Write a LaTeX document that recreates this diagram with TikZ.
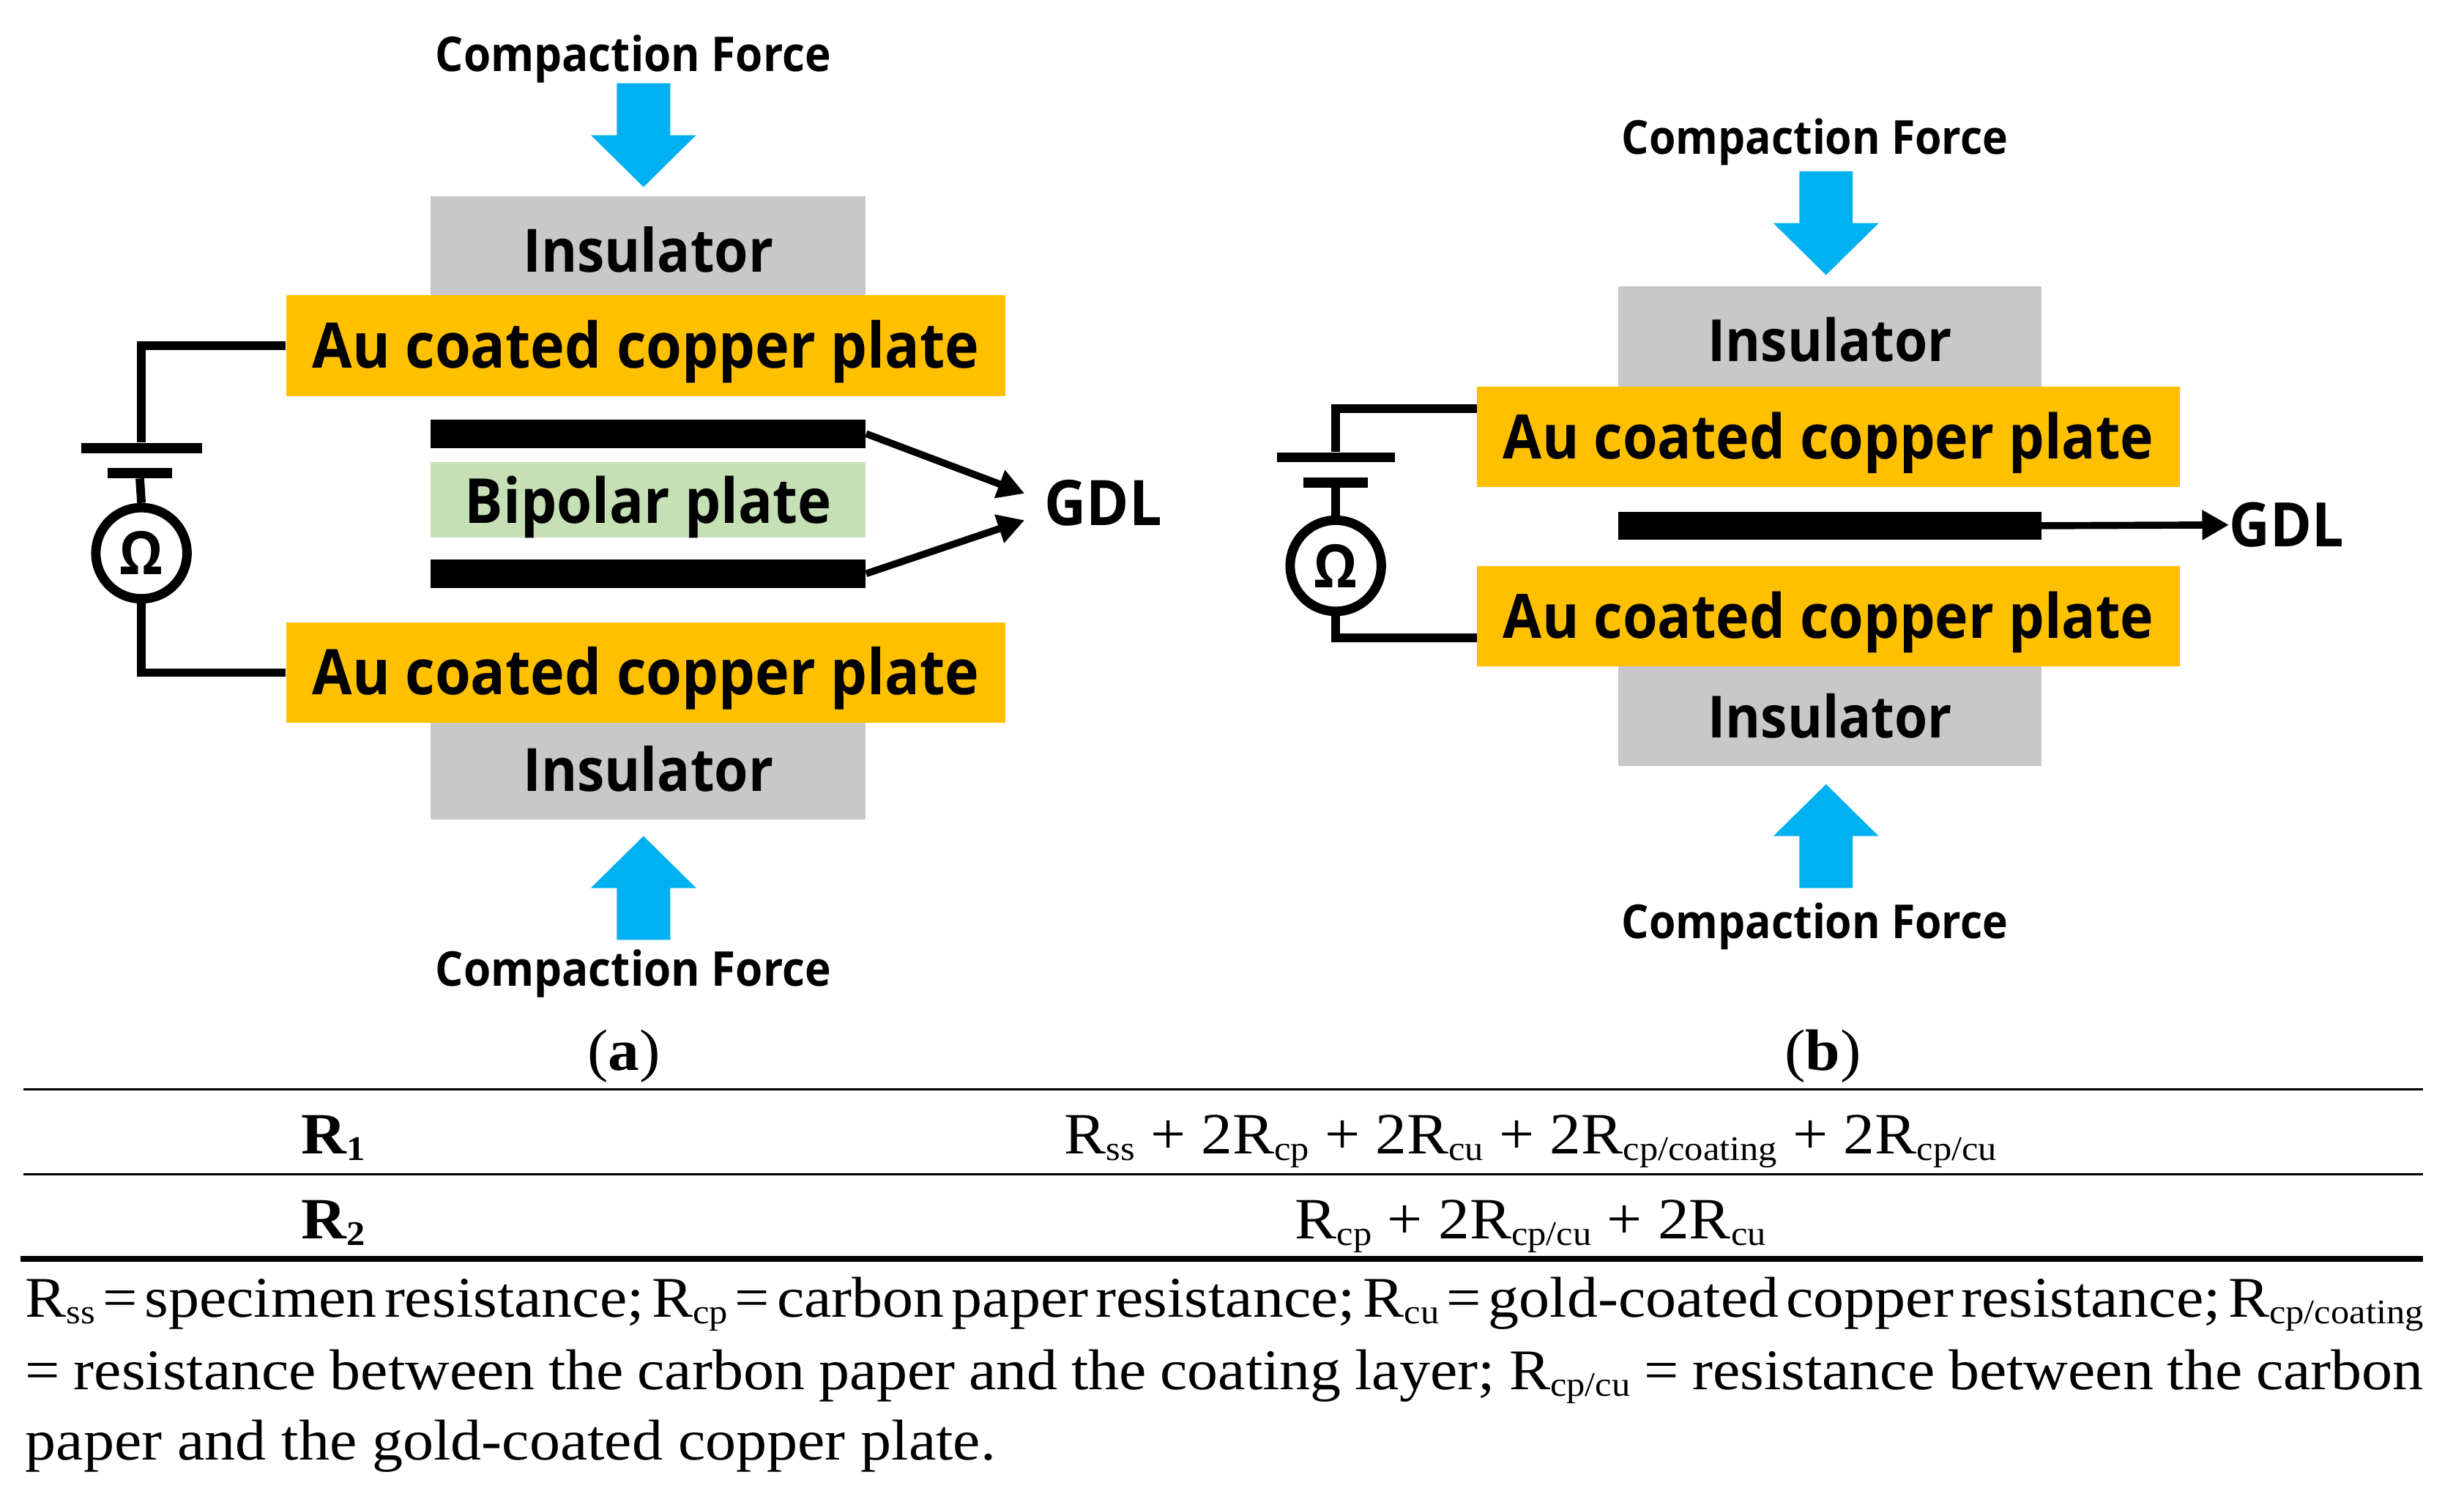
\documentclass[tikz,border=0pt]{standalone}
\usepackage{fontspec}
\usetikzlibrary{arrows.meta}
\setmainfont{Liberation Serif}[FakeStretch=1.07]
\newfontfamily\labfont{Open Sans}[FakeStretch=0.92]
\definecolor{gold}{HTML}{FFC000}
\definecolor{insgray}{HTML}{C8C8C8}
\definecolor{bipgreen}{HTML}{C5E0B4}
\definecolor{forceblue}{HTML}{00B0F0}
\newcommand{\sbs}[1]{\raisebox{-0.25ex}{\fontsize{22}{22}\selectfont #1}}
\newcommand{\lab}[1]{\labfont\bfseries\fontsize{#1}{#1}\selectfont}
\tikzset{
  block/.style={rectangle,inner sep=0pt,text=black,text height=30pt,text depth=2pt},
  ins/.style={block,fill=insgray,minimum height=64pt},
  au/.style={block,fill=gold,minimum height=64pt},
  bip/.style={block,fill=bipgreen,minimum height=48pt},
  gdl/.style={rectangle,inner sep=0pt,fill=black,minimum height=18pt},
  force/.style={inner sep=0pt},
  gdltxt/.style={inner sep=0pt},
  pushdown/.pic={\fill[forceblue] (-17,-33) -- (17,-33) -- (17,0) -- (33.5,0) -- (0,33) -- (-33.5,0) -- (-17,0) -- cycle;},
  pushup/.pic={\fill[forceblue] (-17,33) -- (17,33) -- (17,0) -- (33.5,0) -- (0,-33) -- (-33.5,0) -- (-17,0) -- cycle;},
  batlong/.style={rectangle,inner sep=0pt,fill=black,minimum height=6.5pt,minimum width=77pt},
  batshort/.style={rectangle,inner sep=0pt,fill=black,minimum height=6.5pt,minimum width=41pt},
  ohm/.style={circle,draw=black,line width=6pt,fill=white,minimum size=58pt,inner sep=0pt,font=\lab{38}},
  wire/.style={draw=black,line width=5.5pt},
  lead/.style={draw=black,line width=4.5pt,-{Triangle[length=17pt,width=18pt]}},
  rule/.style={draw=black,line width=1.5pt},
  txt/.style={inner sep=0pt,font=\fontsize{36.6}{36.6}\selectfont},
  tab/.style={inner sep=0pt,font=\fontsize{37.2}{37.2}\selectfont},
}
\begin{document}
\begin{tikzpicture}[x=1pt,y=-1pt]
\useasboundingbox (0,0) rectangle (1568,955.7);

% panel a
\node[force,font=\lab{30.5}] (fa1) at (403,37.5) {Compaction Force};
\pic at (409.5,86) {pushdown};
\node[ins,minimum width=277pt,font=\lab{38},text height=32pt,text depth=0pt] (ia1) at (412.5,157) {Insulator};
\node[au,minimum width=458pt,font=\lab{40}] (aa1) at (411,220) {Au coated copper plate};
\node[gdl,minimum width=277pt] (ga1) at (412.5,276) {};
\node[bip,minimum width=277pt,font=\lab{39.5},text height=31pt,text depth=1pt] (ba) at (412.5,318) {Bipolar plate};
\node[gdl,minimum width=277pt] (ga2) at (412.5,365) {};
\node[ins,minimum width=277pt,font=\lab{38}] (ia2) at (412.5,489.5) {Insulator};
\node[au,minimum width=458pt,font=\lab{40}] (aa2) at (411,428) {Au coated copper plate};
\pic at (409.5,565) {pushup};
\node[force,font=\lab{30.5}] (fa2) at (403,619.5) {Compaction Force};
\node[gdltxt,font=\lab{40}] (ta) at (702,320) {GDL};
\coordinate (ca1) at (652,314);
\coordinate (ca2) at (652,331);
\draw[lead] (ga1.east) -- (ca1);
\draw[lead] (ga2.east) -- (ca2);
\node[batlong] (la) at (90,285) {};
\node[batshort] (sa) at (89,301) {};
\node[ohm] (oa) at (90,352) {Ω};
\draw[wire] (aa1.west) -| (la.north);
\draw[wire] (sa.south) -- (oa.north);
\draw[wire] (oa.south) |- (aa2.west);

% panel b
\node[force,font=\lab{29.8}] (fb1) at (1155,90.5) {Compaction Force};
\pic at (1162,142) {pushdown};
\node[ins,minimum width=269pt,font=\lab{37},text height=32pt,text depth=0pt] (ib1) at (1164.5,214) {Insulator};
\node[au,minimum width=447pt,font=\lab{39}] (ab1) at (1163.5,278) {Au coated copper plate};
\node[gdl,minimum width=269pt] (gb) at (1164.5,334.5) {};
\node[ins,minimum width=269pt,font=\lab{37}] (ib2) at (1164.5,455.5) {Insulator};
\node[au,minimum width=447pt,font=\lab{39}] (ab2) at (1163.5,392) {Au coated copper plate};
\pic at (1162,532) {pushup};
\node[force,font=\lab{29.8}] (fb2) at (1155,589.5) {Compaction Force};
\node[gdltxt,font=\lab{39}] (tb) at (1455,334) {GDL};
\draw[lead] (gb.east) -- (tb.west);
\node[batlong,minimum width=75pt] (lb) at (850,291) {};
\node[batshort] (sb) at (850,307) {};
\node[ohm] (ob) at (850,360) {Ω};
\coordinate (wb1) at (940,260);
\coordinate (wb2) at (940,406);
\draw[wire] (wb1) -| (lb.north);
\draw[wire] (sb.south) -- (ob.north);
\draw[wire] (ob.south) |- (wb2);

% captions
\node[tab] (capa) at (397,672) {(\textbf{a})};
\node[tab] (capb) at (1160,672) {(\textbf{b})};

% table
\coordinate (r1l) at (15,693);
\coordinate (r1r) at (1542,693);
\coordinate (r2l) at (15,747);
\coordinate (r2r) at (1542,747);
\coordinate (r3l) at (13,801);
\coordinate (r3r) at (1542,801);
\draw[rule] (r1l) -- (r1r);
\draw[rule] (r2l) -- (r2r);
\draw[rule,line width=4pt] (r3l) -- (r3r);
\node[tab,anchor=base] (r1) at (212,734) {\textbf{R\sbs{1}}};
\node[tab,anchor=base] (r1f) at (974,734) {R\sbs{ss} + 2R\sbs{cp} + 2R\sbs{cu} + 2R\sbs{cp/coating} + 2R\sbs{cp/cu}};
\node[tab,anchor=base] (r2) at (212,788) {\textbf{R\sbs{2}}};
\node[tab,anchor=base] (r2f) at (974,788) {R\sbs{cp} + 2R\sbs{cp/cu} + 2R\sbs{cu}};

% note below table
\node[txt,anchor=base west] (n1) at (16,838) {\makebox[1526pt][s]{\spaceskip=.12em plus 1em minus .02em R\sbs{ss} = specimen resistance; R\sbs{cp} = carbon paper resistance; R\sbs{cu} = gold-coated copper resistance; R\sbs{cp/coating}}};
\node[txt,anchor=base west] (n2) at (16,884) {\makebox[1526pt][s]{= resistance between the carbon paper and the coating layer; R\sbs{cp/cu} = resistance between the carbon}};
\node[txt,anchor=base west] (n3) at (16,929) {paper and the gold-coated copper plate.};
\end{tikzpicture}
\end{document}
